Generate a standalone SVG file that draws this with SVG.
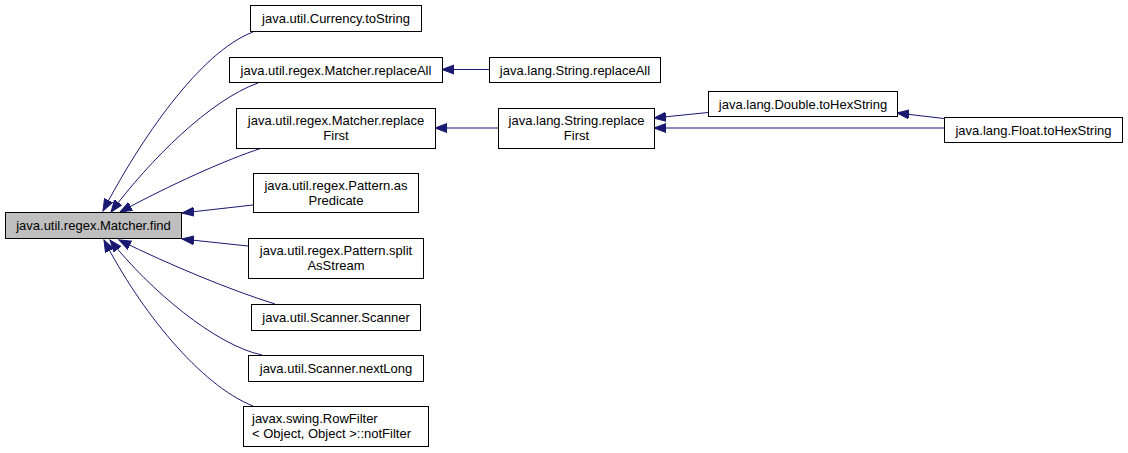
<svg xmlns="http://www.w3.org/2000/svg" width="1128" height="453" viewBox="0 0 1128 453">
<style>
.n rect{fill:#fff;stroke:#000;stroke-width:1}
.n text{font-family:"Liberation Sans",Arial,sans-serif;font-size:13px;fill:#000;text-anchor:middle}
.n text.l{text-anchor:start}
#e path{fill:none;stroke:#191970;stroke-width:1;marker-end:url(#a)}
</style>
<defs>
<marker id="a" markerUnits="userSpaceOnUse" markerWidth="14" markerHeight="12" refX="12" refY="5" orient="auto">
<path d="M0,0.5 L12,5 L0,9.5 z" fill="#191970" stroke="#191970" stroke-width="1"/>
</marker>
</defs>
<rect width="1128" height="453" fill="#fff"/>
<g id="e">
<path d="M253,32 C200,52 140,140 103,211"/>
<path d="M258,83 C210,100 150,160 111,212"/>
<path d="M262,148 C225,160 170,185 120,212"/>
<path d="M253,205 L182,213"/>
<path d="M248,246 L182,239"/>
<path d="M275,304 C230,290 170,265 119,240"/>
<path d="M262,355 C215,345 150,290 110,240"/>
<path d="M253,406 C200,385 140,310 104,240"/>
<path d="M489,69.5 L442,69.5"/>
<path d="M498,128 L435,128"/>
<path d="M708,112.5 L654,118"/>
<path d="M944,128 L654,128"/>
<path d="M944,118.5 L897,113"/>
</g>
<g id="find" class="n"><rect x="5.5" y="212.5" width="176" height="26" style="fill:#bfbfbf"/><text x="93.5" y="230">java.util.regex.Matcher.find</text></g>
<g id="currency" class="n"><rect x="250.5" y="5.5" width="171" height="26"/><text x="336" y="23">java.util.Currency.toString</text></g>
<g id="mreplaceall" class="n"><rect x="229.5" y="57.5" width="213" height="25"/><text x="336" y="74.5">java.util.regex.Matcher.replaceAll</text></g>
<g id="mreplacefirst" class="n"><rect x="236.5" y="108.5" width="199" height="40"/><text x="336" y="125">java.util.regex.Matcher.replace</text><text x="336" y="140">First</text></g>
<g id="aspredicate" class="n"><rect x="253.5" y="173.5" width="165" height="39"/><text x="336" y="190">java.util.regex.Pattern.as</text><text x="336" y="205">Predicate</text></g>
<g id="splitasstream" class="n"><rect x="248.5" y="238.5" width="175" height="40"/><text x="336" y="255">java.util.regex.Pattern.split</text><text x="336" y="270">AsStream</text></g>
<g id="scanner" class="n"><rect x="251.5" y="304.5" width="169" height="26"/><text x="336" y="322">java.util.Scanner.Scanner</text></g>
<g id="nextlong" class="n"><rect x="248.5" y="355.5" width="175" height="26"/><text x="336" y="373">java.util.Scanner.nextLong</text></g>
<g id="rowfilter" class="n"><rect x="243.5" y="406.5" width="185" height="40"/><text class="l" x="252" y="423">javax.swing.RowFilter</text><text class="l" x="252" y="438">&lt; Object, Object &gt;::notFilter</text></g>
<g id="sreplaceall" class="n"><rect x="489.5" y="57.5" width="171" height="25"/><text x="575" y="74.5">java.lang.String.replaceAll</text></g>
<g id="sreplacefirst" class="n"><rect x="498.5" y="108.5" width="156" height="40"/><text x="576.5" y="125">java.lang.String.replace</text><text x="576.5" y="140">First</text></g>
<g id="double" class="n"><rect x="708.5" y="91.5" width="189" height="25"/><text x="803" y="108.5">java.lang.Double.toHexString</text></g>
<g id="float" class="n"><rect x="944.5" y="117.5" width="178" height="25"/><text x="1033.5" y="134.5">java.lang.Float.toHexString</text></g>
</svg>
